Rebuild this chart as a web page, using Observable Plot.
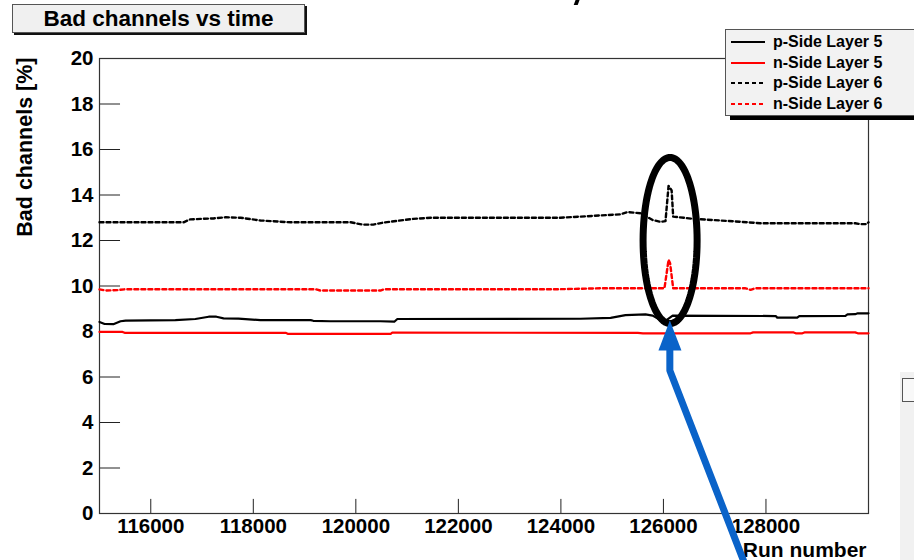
<!DOCTYPE html>
<html><head><meta charset="utf-8">
<script src="https://cdn.jsdelivr.net/npm/d3@7"></script>
<script src="https://cdn.jsdelivr.net/npm/@observablehq/plot@0.6"></script>
<style>
body{margin:0;background:#fff;font-family:"Liberation Sans",Arial,sans-serif;}
#wrap{position:relative;width:914px;height:560px;overflow:hidden;background:#fff;}
#chart{position:absolute;left:0;top:0;}
.title{position:absolute;left:12px;top:4px;width:291px;height:27px;background:#f0f0f0;border:1px solid #555;box-shadow:2px 2px 0 #111;font-weight:bold;font-size:22.5px;text-align:center;line-height:28px;color:#000;}
.legend{position:absolute;left:725px;top:29px;width:220px;height:85px;background:#f2f2f2;border:1px solid #555;box-shadow:5px 4px 0 #000;}
.row{position:absolute;left:5px;height:20px;display:flex;align-items:center;}
.row span{font-weight:bold;font-size:16px;margin-left:8px;color:#000;line-height:20px;}
.frag{position:absolute;left:575px;top:-2px;width:4px;height:7px;background:#000;transform:skewX(-20deg);}
.side{position:absolute;left:900px;top:372px;width:14px;height:188px;background:#f1f1f1;}
.sidebox{position:absolute;left:902px;top:378px;width:20px;height:22px;border:1px solid #555;background:#f8f8f8;}
</style></head>
<body>
<div id="wrap">
  <div id="chart"></div>
  <div class="frag"></div>
  <div class="side"></div><div class="sidebox"></div>
  <div class="title">Bad channels vs time</div>
  <div class="legend" id="legend"></div>
</div>
<script>
// ---- data (run number, bad channels %) ----
const pSideL5 = [[115000,8.42],[115100,8.33],[115270,8.32],[115410,8.45],[115510,8.48],[116480,8.5],[116870,8.55],[117130,8.65],[117280,8.65],[117420,8.58],[117710,8.57],[118140,8.5],[119120,8.5],[119170,8.47],[119500,8.45],[120480,8.45],[120750,8.43],[120810,8.55],[124380,8.56],[124970,8.6],[125260,8.72],[125650,8.75],[125790,8.7],[125940,8.5],[126060,8.5],[126180,8.7],[128190,8.68],[128220,8.61],[128610,8.61],[128650,8.68],[129550,8.69],[129590,8.75],[129740,8.76],[129790,8.8],[130000,8.8]];
const nSideL5 = [[115000,7.98],[115450,7.98],[115490,7.94],[118630,7.94],[118670,7.9],[120680,7.9],[120710,7.95],[125500,7.94],[125600,7.92],[127700,7.92],[127750,7.96],[128540,7.96],[128580,7.92],[128710,7.92],[128750,7.96],[129740,7.96],[129790,7.92],[130000,7.92]];
const pSideL6 = [[115000,12.8],[116640,12.8],[116770,12.93],[117220,12.97],[117460,13.02],[117750,13.0],[118140,12.88],[118730,12.8],[119900,12.8],[120130,12.7],[120340,12.7],[120520,12.78],[121120,12.95],[121460,13.0],[123990,13.0],[124380,13.05],[124770,13.1],[125160,13.15],[125300,13.25],[125550,13.2],[125790,12.9],[125940,12.82],[126040,12.85],[126100,14.4],[126160,14.2],[126190,13.05],[126590,12.95],[127250,12.86],[127640,12.8],[127890,12.76],[129740,12.76],[129840,12.72],[129960,12.72],[130000,12.8]];
const nSideL6 = [[115000,9.85],[115120,9.8],[115350,9.82],[115510,9.86],[119210,9.86],[119310,9.8],[120480,9.8],[120560,9.86],[123990,9.86],[124770,9.9],[126020,9.9],[126100,11.15],[126130,11.0],[126190,9.9],[127600,9.9],[127700,9.83],[127790,9.9],[130000,9.9]];
const seriesNames = ["p-Side Layer 5","n-Side Layer 5","p-Side Layer 6","n-Side Layer 6"];
const xTicks = [116000,118000,120000,122000,124000,126000,128000];
const yTicks = [0,2,4,6,8,10,12,14,16,18,20];
const xDomain = [115000,130000];
const yDomain = [0,20];
// annotation (data units)
const ringCenter = [126130, 12.0];
const ringRadius = [527, 3.65];
const arrowShaft = [[127561,-2.07],[126125,6.29],[126125,7.3]];
const arrowHead = [[125903,7.16],[126125,8.48],[126352,7.16]];

const styles = [
  {stroke:"#000", dash:null},
  {stroke:"#ff0000", dash:null},
  {stroke:"#000", dash:"4,3"},
  {stroke:"#ff0000", dash:"4,3"}
];
const allSeries = [pSideL5, nSideL5, pSideL6, nSideL6];
const ringPts = d3.range(0, 361, 4).map(a => [ringCenter[0] + ringRadius[0]*Math.cos(a*Math.PI/180), ringCenter[1] + ringRadius[1]*Math.sin(a*Math.PI/180)]);
const P = d => d[0], V = d => d[1];

const chart = Plot.plot({
  width: 914, height: 560,
  marginLeft: 99, marginRight: 46, marginTop: 58, marginBottom: 47,
  style: {fontFamily: '"Liberation Sans", Arial, sans-serif', fontSize: "20.5px", fontWeight: "bold", color: "#000", background: "transparent"},
  x: {domain: xDomain},
  y: {domain: yDomain},
  marks: [
    Plot.ruleY(yTicks, {x1: xDomain[0], x2: xDomain[0] + 410, stroke: "#222", strokeWidth: 1}),
    Plot.ruleX(xTicks, {y1: 0, y2: 0.62, stroke: "#222", strokeWidth: 1}),
    Plot.axisY(yTicks, {tickSize: 0, tickPadding: 6, label: null, tickFormat: d => `${d}`}),
    Plot.axisX(xTicks, {tickSize: 0, tickPadding: 5, label: null, tickFormat: d => `${d}`}),
    Plot.frame({stroke: "#333", strokeWidth: 1.2}),
    ...allSeries.map((s, i) => Plot.line(s, {x: P, y: V, stroke: styles[i].stroke, strokeWidth: i < 2 ? 2.2 : 2.4, strokeDasharray: styles[i].dash})),
    Plot.text(["Bad channels [%]"], {frameAnchor: "top-left", dx: -74, dy: -1, rotate: -90, textAnchor: "end", lineAnchor: "middle", fontSize: 21.5, fontWeight: "bold"}),
    Plot.text(["Run number"], {frameAnchor: "bottom-right", dx: -2, dy: 43, textAnchor: "end", lineAnchor: "bottom", fontSize: 21, fontWeight: "bold"}),
    Plot.line(ringPts, {x: P, y: V, stroke: "#000", strokeWidth: 7}),
    Plot.line(arrowShaft, {x: P, y: V, stroke: "#0a63c9", strokeWidth: 7, strokeLinejoin: "miter"}),
    Plot.line(arrowHead, {x: P, y: V, fill: "#0a63c9", stroke: "none"})
  ]
});
document.getElementById("chart").appendChild(chart);

// legend
const leg = document.getElementById("legend");
const rowTops = [2, 22.5, 43, 64];
seriesNames.forEach((name, i) => {
  const row = document.createElement("div");
  row.className = "row";
  row.style.top = rowTops[i] + "px";
  row.innerHTML = `<svg width="34" height="20"><line x1="0" x2="34" y1="10" y2="10" stroke="${styles[i].stroke}" stroke-width="2.2" ${styles[i].dash ? `stroke-dasharray="${styles[i].dash}"` : ""}/></svg><span>${name}</span>`;
  leg.appendChild(row);
});
</script>
</body></html>
